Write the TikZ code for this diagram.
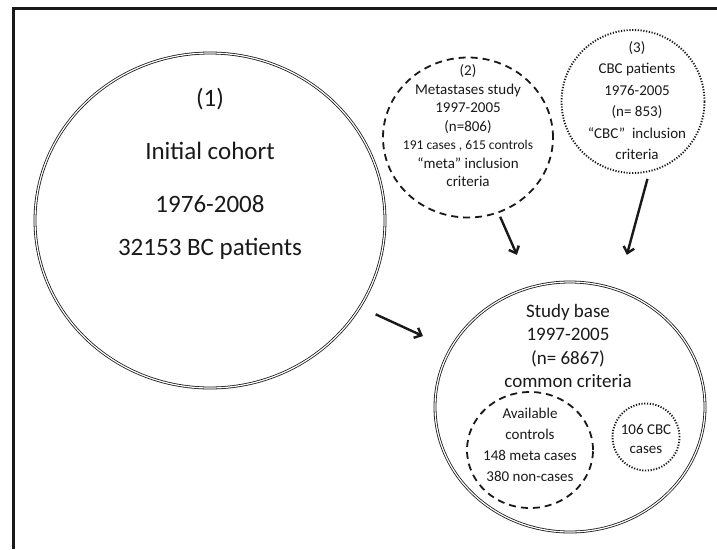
\documentclass[tikz,border=0pt]{standalone}
\usepackage{fontspec}
\setmainfont{Carlito}
\usetikzlibrary{shapes.geometric}
\usetikzlibrary{arrows.meta}

\begin{document}
\begin{tikzpicture}[x=1pt, y=-1pt,
    circ/.style={ellipse, draw=black!90, inner sep=0pt},
    dbl/.style={circ, double, double distance=1.2pt, line width=0.8pt},
    dsh/.style={circ, line width=1.8pt, dash pattern=on 7pt off 5pt},
    dts/.style={circ, line width=1.9pt, dash pattern=on 1.2pt off 1.6pt},
    arr/.style={-{Straight Barb[length=6pt,width=11pt]}, line width=2.4pt, draw=black!90},
    txt/.style={align=center, inner sep=0pt, text=black!90}]
  \useasboundingbox (0,0) rectangle (717,549);
  \draw[line width=3pt, black!90] (13,549) -- (13,8) -- (717,8);

  \node[dbl, minimum width=350pt, minimum height=335pt] (cohort) at (210,220.5) {};
  \node[dsh, minimum width=170pt, minimum height=160pt] (meta) at (468,137.5) {};
  \node[dts, minimum width=143pt, minimum height=143pt] (cbc) at (633,101.5) {};
  \node[dbl, minimum width=270pt, minimum height=250pt] (base) at (570,407) {};
  \node[dsh, minimum width=126pt, minimum height=116pt] (avail) at (530,450) {};
  \node[dts, minimum width=67pt, minimum height=67pt] (cbccases) at (646,437) {};

  \node[txt, font=\fontsize{25}{43}\selectfont] (cohorttext) at (210,173.5)
    {(1)\\[10pt] Initial cohort\\[10pt] 1976-2008\\ 32153 BC patients};
  \node[txt, font=\fontsize{15}{18.5}\selectfont] (metatext) at (468,126)
    {(2)\\ Metastases study\\ 1997-2005\\ (n=806)\\
     {\fontsize{13.5}{18.5}\selectfont 191 cases , 615 controls}\\
     “meta” inclusion\\ criteria};
  \node[txt, font=\fontsize{15}{21.5}\selectfont] (cbctext) at (637,100.5)
    {(3)\\ CBC patients\\ 1976-2005\\ (n= 853)\\ “CBC”\ \ inclusion\\ criteria};
  \node[txt, font=\fontsize{19}{23.3}\selectfont] (basetext) at (568,346)
    {Study base\\ 1997-2005\\ (n= 6867)\\ common criteria};
  \node[txt, font=\fontsize{15}{21}\selectfont] (availtext) at (530,445)
    {Available\\ controls\\ 148 meta cases\\ 380 non-cases};
  \node[txt, font=\fontsize{15}{19}\selectfont] (cbccasestext) at (646,438.5)
    {106 CBC\\ cases};

  \draw[arr, shorten <=17pt, shorten >=30pt] (cohort.-30.7) -- (base.154);
  \draw[arr, shorten <=4pt, shorten >=35pt] (meta.-68) -- (base.108);
  \draw[arr, shorten <=7pt, shorten >=36pt] (cbc.-77) -- (base.68);
\end{tikzpicture}
\end{document}
